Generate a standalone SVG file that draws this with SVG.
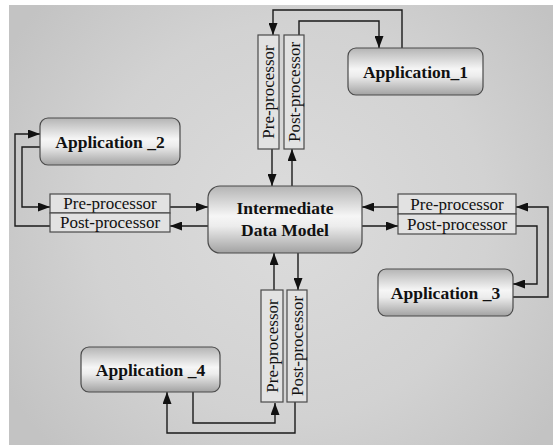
<svg xmlns="http://www.w3.org/2000/svg" width="553" height="445" viewBox="0 0 553 445">
<defs>
<radialGradient id="bg" cx="290" cy="220" r="330" gradientUnits="userSpaceOnUse">
<stop offset="0" stop-color="#dcdcdc"/>
<stop offset="0.6" stop-color="#d2d2d2"/>
<stop offset="1" stop-color="#c3c3c3"/>
</radialGradient>
<linearGradient id="metal" x1="0" y1="0" x2="0" y2="1">
<stop offset="0" stop-color="#b4b4b4"/>
<stop offset="0.45" stop-color="#f6f6f6"/>
<stop offset="0.6" stop-color="#ececec"/>
<stop offset="1" stop-color="#a2a2a2"/>
</linearGradient>
<marker id="ah" markerWidth="12" markerHeight="9" refX="12" refY="4.5" orient="auto" markerUnits="userSpaceOnUse">
<path d="M0,0 L12,4.5 L0,9 z" fill="#111"/>
</marker>
<style>
.app{fill:url(#metal);stroke:#4a4a4a;stroke-width:1.2}
.proc{fill:#e2e2e2;stroke:#4a4a4a;stroke-width:1.2}
.bt{font-family:"Liberation Serif",serif;font-weight:bold;font-size:17.5px;fill:#111;text-anchor:middle}
.pt{font-family:"Liberation Serif",serif;font-size:17px;fill:#111;text-anchor:middle}
.ln{fill:none;stroke:#1a1a1a;stroke-width:1.4}
.ar{fill:none;stroke:#1a1a1a;stroke-width:1.4;marker-end:url(#ah)}
</style>
</defs>
<rect x="9" y="5" width="544" height="440" fill="url(#bg)"/>

<g id="connectors">
<!-- top -->
<path class="ar" d="M402,48 V10 H273 V35"/>
<path class="ar" d="M299,35 V21 H379 V48"/>
<path class="ar" d="M272,149 V186"/>
<path class="ar" d="M292,186 V149"/>
<!-- left -->
<path class="ar" d="M170,207 H208"/>
<path class="ar" d="M208,226 H170"/>
<path class="ar" d="M50,226 H15 V134 H40"/>
<path class="ar" d="M40,147 H22 V207 H50"/>
<!-- right -->
<path class="ar" d="M398,207 H362"/>
<path class="ar" d="M362,226 H398"/>
<path class="ar" d="M516,226 H537 V284 H513"/>
<path class="ar" d="M513,297 H548 V207 H516"/>
<!-- bottom -->
<path class="ar" d="M274,290 V253"/>
<path class="ar" d="M298,253 V290"/>
<path class="ar" d="M193,392 V423 H275 V403"/>
<path class="ar" d="M295,402 V433 H167 V392"/>
</g>

<g id="idm">
<rect class="app" x="208" y="186" width="154" height="67" rx="12"/>
<text class="bt" x="285" y="214">Intermediate</text>
<text class="bt" x="285" y="236">Data Model</text>
</g>

<g id="app1">
<rect class="app" x="348" y="48" width="135" height="47" rx="8"/>
<text class="bt" x="415.5" y="77.5">Application_1</text>
</g>
<g id="app2">
<rect class="app" x="40" y="118" width="140" height="47" rx="8"/>
<text class="bt" x="110" y="147.5">Application _2</text>
</g>
<g id="app3">
<rect class="app" x="378" y="269" width="135" height="47" rx="8"/>
<text class="bt" x="445.5" y="298.5">Application _3</text>
</g>
<g id="app4">
<rect class="app" x="81" y="347" width="139" height="45" rx="8"/>
<text class="bt" x="150.5" y="375.5">Application _4</text>
</g>

<g id="pre1">
<rect class="proc" x="258" y="35" width="21" height="114"/>
<text class="pt" transform="translate(274,92) rotate(-90)">Pre-processor</text>
</g>
<g id="post1">
<rect class="proc" x="284" y="35" width="20" height="114"/>
<text class="pt" transform="translate(299.5,92) rotate(-90)">Post-processor</text>
</g>
<g id="pre2">
<rect class="proc" x="50" y="194" width="120" height="19"/>
<text class="pt" x="110" y="209">Pre-processor</text>
</g>
<g id="post2">
<rect class="proc" x="50" y="213" width="120" height="19"/>
<text class="pt" x="110" y="228">Post-processor</text>
</g>
<g id="pre3">
<rect class="proc" x="398" y="194" width="118" height="20"/>
<text class="pt" x="457" y="209.5">Pre-processor</text>
</g>
<g id="post3">
<rect class="proc" x="398" y="214" width="118" height="20"/>
<text class="pt" x="457" y="229.5">Post-processor</text>
</g>
<g id="pre4">
<rect class="proc" x="261" y="290" width="22" height="112"/>
<text class="pt" transform="translate(277.5,346) rotate(-90)">Pre-processor</text>
</g>
<g id="post4">
<rect class="proc" x="287" y="290" width="20" height="112"/>
<text class="pt" transform="translate(302.5,346) rotate(-90)">Post-processor</text>
</g>
</svg>
